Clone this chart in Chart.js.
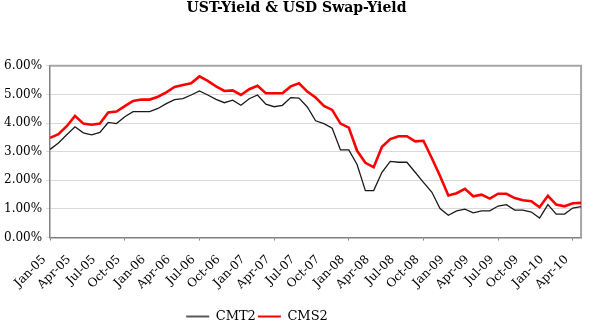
<!DOCTYPE html>
<html>
<head>
<meta charset="utf-8">
<script src="https://cdn.jsdelivr.net/npm/chart.js@4.4.0/dist/chart.umd.min.js"></script>
<style>
  html, body { margin: 0; padding: 0; background: #fff; }
  #wrap { width: 595px; height: 329px; }
</style>
</head>
<body>
<div id="wrap"><canvas id="yieldChart"></canvas></div>
<script>
// monthly labels Jan-05 .. May-10
const months = ['Jan', 'Feb', 'Mar', 'Apr', 'May', 'Jun', 'Jul', 'Aug', 'Sep', 'Oct', 'Nov', 'Dec'];
const years = ['05', '06', '07', '08', '09', '10'];
const labels = [];
years.forEach(y => months.forEach(m => labels.push(m + '-' + y)));
labels.length = 65;

// 2y treasury yield, %
const cmt2 = [
    3.08, 3.30, 3.59, 3.87, 3.66, 3.59, 3.67, 4.02, 3.98, 4.22, 4.40, 4.40,
    4.40, 4.51, 4.68, 4.82, 4.85, 4.98, 5.12, 4.98, 4.83, 4.71, 4.80, 4.62,
    4.85, 4.98, 4.66, 4.57, 4.62, 4.89, 4.87, 4.56, 4.08, 3.98, 3.82, 3.06,
    3.06, 2.55, 1.64, 1.64, 2.28, 2.66, 2.63, 2.63, 2.28, 1.93, 1.59, 1.01,
    0.78, 0.93, 0.99, 0.86, 0.93, 0.93, 1.10, 1.15, 0.96, 0.96, 0.89, 0.68,
    1.15, 0.82, 0.82, 1.03, 1.08
];

// 2y USD swap yield, %
const cms2 = [
    3.48, 3.61, 3.89, 4.25, 3.98, 3.94, 3.98, 4.37, 4.40, 4.59, 4.77, 4.82,
    4.82, 4.92, 5.07, 5.26, 5.33, 5.39, 5.63, 5.47, 5.28, 5.12, 5.14, 4.98,
    5.18, 5.30, 5.04, 5.04, 5.04, 5.28, 5.39, 5.10, 4.89, 4.60, 4.46, 3.98,
    3.84, 3.03, 2.61, 2.46, 3.17, 3.44, 3.54, 3.54, 3.36, 3.38, 2.78, 2.15,
    1.47, 1.55, 1.70, 1.44, 1.50, 1.36, 1.53, 1.53, 1.38, 1.30, 1.27, 1.06,
    1.46, 1.15, 1.09, 1.20, 1.21
];

const yTicks = [0, 1, 2, 3, 4, 5, 6];

const serif = 'DejaVu Serif';

// frame on top and right of plot area, legend nudged left/down like the original
const frame = {
    id: 'frame',
    afterLayout(chart) {
        chart.legend.right -= 79;
        chart.legend.top += 4;
        chart.legend.bottom += 4;
    },
    beforeDatasetsDraw(chart) {
        const a = chart.chartArea;
        const ctx = chart.ctx;
        ctx.save();
        ctx.strokeStyle = '#a6a6a6';
        ctx.lineWidth = 2;
        ctx.beginPath();
        ctx.moveTo(a.left, a.top);
        ctx.lineTo(a.right, a.top);
        ctx.lineTo(a.right, a.bottom);
        ctx.stroke();
        ctx.restore();
    }
};

new Chart(document.getElementById('yieldChart'), {
    type: 'line',
    data: {
        labels: labels,
        datasets: [
            {
                label: 'CMT2',
                data: cmt2,
                borderColor: '#1a1a1a',
                backgroundColor: '#1a1a1a',
                borderWidth: 1.3,
                pointRadius: 0,
                tension: 0
            },
            {
                label: 'CMS2',
                data: cms2,
                borderColor: '#ff0000',
                backgroundColor: '#ff0000',
                borderWidth: 2.6,
                pointRadius: 0,
                tension: 0
            }
        ]
    },
    options: {
        responsive: true,
        maintainAspectRatio: false,
        animation: false,
        layout: { padding: { left: 0, right: 2, top: 0, bottom: 0 } },
        plugins: {
            title: {
                display: true,
                text: 'UST-Yield & USD Swap-Yield',
                color: '#000',
                font: { family: serif, size: 14, weight: 'bold' },
                padding: { top: 0, bottom: 49 }
            },
            legend: {
                position: 'bottom',
                labels: {
                    color: '#000',
                    font: { family: serif, size: 13 },
                    usePointStyle: true,
                    pointStyle: 'line',
                    pointStyleWidth: 23,
                    padding: 2,
                    generateLabels: chart => {
                        const items = Chart.defaults.plugins.legend.labels.generateLabels(chart);
                        items.forEach(it => {
                            it.lineWidth = 2;
                            if (it.text === 'CMT2') it.strokeStyle = '#595959';
                        });
                        return items;
                    }
                }
            },
            tooltip: { enabled: false }
        },
        scales: {
            x: {
                offset: false,
                grid: {
                    drawOnChartArea: false,
                    drawTicks: true,
                    tickLength: 3,
                    color: ctx => (ctx.index % 3 === 0 ? '#808080' : 'rgba(0,0,0,0)')
                },
                border: { color: '#808080', width: 1.5 },
                ticks: {
                    autoSkip: false,
                    maxRotation: 45,
                    minRotation: 45,
                    padding: 12,
                    labelOffset: -6,
                    color: '#000',
                    font: { family: serif, size: 12 },
                    callback: function(v, i) { return i % 3 === 0 ? labels[i] : null; }
                }
            },
            y: {
                min: 0,
                max: 6,
                afterBuildTicks: axis => { axis.ticks = yTicks.map(v => ({ value: v })); },
                grid: { color: '#d9d9d9', tickLength: 4, lineWidth: 1 },
                border: { color: '#808080', width: 1.5 },
                ticks: {
                    padding: 4,
                    color: '#000',
                    font: { family: serif, size: 12 },
                    callback: v => v.toFixed(2) + '%'
                }
            }
        }
    },
    plugins: [frame]
});
</script>
</body>
</html>
